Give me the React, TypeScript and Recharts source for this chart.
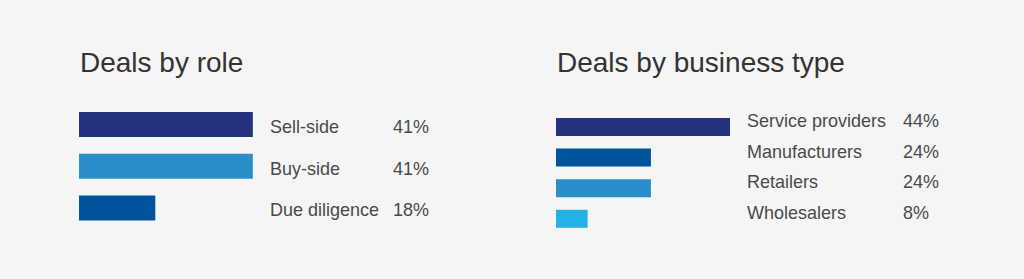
import React from 'react';
import { BarChart, Bar, XAxis, YAxis, Cell, LabelList } from 'recharts';

const roleNames = ['Sell-side', 'Buy-side', 'Due diligence'];
const roleValues = [41, 41, 18];
const roleColors = ['#27327f', '#2a8fc9', '#00549c'];

const typeNames = ['Service providers', 'Manufacturers', 'Retailers', 'Wholesalers'];
const typeValues = [44, 24, 24, 8];
const typeColors = ['#27327f', '#00549c', '#2a8fc9', '#22b2e5'];

const FONT = '"Liberation Sans", Arial, Helvetica, sans-serif';
const PAD = 12; // room above the first row so its label is not clipped

interface PanelProps {
  title: string;
  names: string[];
  values: number[];
  colors: string[];
  left: number;
  top: number;
  plotWidth: number;
  rowHeight: number;
  barSize: number;
  nameX: number;
  pctX: number;
  textDy: number;
}

const Panel: React.FC<PanelProps> = ({
  title,
  names,
  values,
  colors,
  left,
  top,
  plotWidth,
  rowHeight,
  barSize,
  nameX,
  pctX,
  textDy,
}) => {
  const data = names.map((name, i) => ({ name, value: values[i] }));

  // name and percent columns, placed relative to the bar's row
  const renderName = (props: any) => {
    const { x, y, height, value } = props;
    return (
      <text x={Number(x) + nameX} y={Number(y) + Number(height) / 2 + textDy} fill="#4a4a4a" fontSize={18} fontFamily={FONT}>
        {value}
      </text>
    );
  };
  const renderPct = (props: any) => {
    const { x, y, height, value } = props;
    return (
      <text x={Number(x) + pctX} y={Number(y) + Number(height) / 2 + textDy} fill="#4a4a4a" fontSize={18} fontFamily={FONT}>
        {`${value}%`}
      </text>
    );
  };

  return (
    <>
      <div
        style={{
          position: 'absolute',
          left: left + 1,
          top: 49,
          fontFamily: FONT,
          fontSize: 28,
          lineHeight: '28px',
          color: '#333333',
          whiteSpace: 'nowrap',
        }}
      >
        {title}
      </div>
      <div style={{ position: 'absolute', left, top: top - PAD }}>
        <BarChart
          width={plotWidth}
          height={rowHeight * names.length + PAD}
          data={data}
          layout="vertical"
          margin={{ top: PAD, right: 0, bottom: 0, left: 0 }}
        >
          <XAxis type="number" domain={[0, 100]} hide />
          <YAxis type="category" dataKey="name" hide />
          <Bar dataKey="value" barSize={barSize} isAnimationActive={false}>
            {data.map((d, i) => (
              <Cell key={`cell-${i}`} fill={colors[i]} />
            ))}
            <LabelList dataKey="name" content={renderName} />
            <LabelList dataKey="value" content={renderPct} />
          </Bar>
        </BarChart>
      </div>
    </>
  );
};

export default function App() {
  return (
    <div
      style={{
        position: 'absolute',
        left: 0,
        top: 0,
        width: 1024,
        height: 279,
        background: '#f5f5f5',
        overflow: 'hidden',
      }}
    >
      <Panel
        title="Deals by role"
        names={roleNames}
        values={roleValues}
        colors={roleColors}
        left={79}
        top={103.5}
        plotWidth={424}
        rowHeight={41.7}
        barSize={25}
        nameX={191}
        pctX={314}
        textDy={8.5}
      />
      <Panel
        title="Deals by business type"
        names={typeNames}
        values={typeValues}
        colors={typeColors}
        left={556}
        top={111.5}
        plotWidth={395.5}
        rowHeight={30.6}
        barSize={18}
        nameX={191}
        pctX={347}
        textDy={0}
      />
    </div>
  );
}
